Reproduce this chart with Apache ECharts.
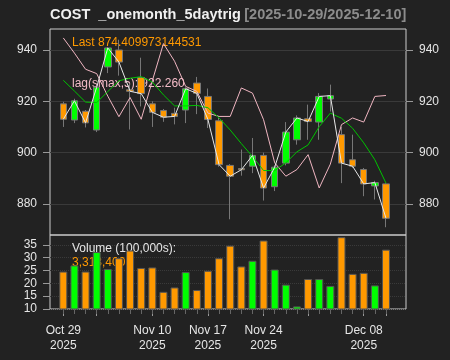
<!DOCTYPE html>
<html><head><meta charset="utf-8">
<script src="https://cdn.jsdelivr.net/npm/echarts@6/dist/echarts.min.js"></script>
<style>html,body{margin:0;padding:0;background:#222222;}#c{width:450px;height:360px;}</style>
</head><body><div id="c"></div>
<script>
const dates = ['2025-10-29','2025-10-30','2025-10-31','2025-11-03','2025-11-04','2025-11-05','2025-11-06','2025-11-07','2025-11-10','2025-11-11','2025-11-12','2025-11-13','2025-11-14','2025-11-17','2025-11-18','2025-11-19','2025-11-20','2025-11-21','2025-11-24','2025-11-25','2025-11-26','2025-11-28','2025-12-01','2025-12-02','2025-12-03','2025-12-04','2025-12-05','2025-12-08','2025-12-09','2025-12-10'];
const opens  = [919.0,912.7,916.1,908.8,933.4,940.0,924.5,929.3,919.0,916.4,915.3,916.6,927.1,921.9,912.4,895.0,893.8,894.7,898.9,886.7,895.9,905.0,913.2,911.9,920.9,907.0,897.2,893.4,887.0,887.8];
const closes = [913.0,920.2,911.6,925.5,940.8,935.3,923.9,923.0,915.7,913.8,914.1,924.9,923.1,912.9,895.3,890.8,893.3,898.9,886.2,894.3,908.0,913.5,912.1,921.9,922.2,895.9,894.7,887.8,888.3,874.409973144531];
const highs  = [919.8,921.0,916.6,926.0,941.2,944.0,927.0,937.0,920.0,917.0,917.5,925.5,929.5,925.0,913.5,895.5,901.2,905.7,900.0,895.0,911.9,914.5,918.7,923.2,926.5,910.0,907.0,894.0,889.0,888.0];
const lows   = [910.0,911.5,909.8,908.0,931.0,930.0,909.0,918.0,910.0,912.0,911.0,911.5,915.0,909.6,894.5,874.0,891.0,892.0,881.3,885.0,895.0,903.1,905.0,905.0,916.0,888.1,894.0,883.0,881.7,870.9];
const volumes = [24.6,27.0,24.6,32.2,25.6,29.8,32.8,26.0,26.2,16.7,18.4,24.4,17.4,24.9,29.8,34.7,26.6,28.8,36.7,25.4,19.5,11.0,21.7,21.7,19.0,38.0,23.7,24.1,19.2,33.134];
const sma5 = [928.2,924.0,919.7,919.5,923.8,928.0,929.0,929.6,927.5,922.5,918.2,918.2,918.4,917.5,913.5,908.8,903.5,898.5,893.0,893.0,896.0,900.3,903.0,910.1,915.4,913.4,909.5,903.8,897.2,888.1];
const lagSmax = [944.7,938.8,932.5,930.8,922.0,914.0,921.5,913.0,928.0,942.5,935.6,925.8,923.9,915.4,914.1,914.1,925.2,923.2,912.8,896.0,890.8,893.4,899.2,886.2,895.5,910.9,913.5,911.9,921.9,922.26];
const priceTicks = [880,900,920,940];
const volTicks = [10,15,20,25,30,35];
const labelDates = ['2025-10-29','2025-11-10','2025-11-17','2025-11-24','2025-12-08'];
const labelTexts = ['Oct 29\n2025','Nov 10\n2025','Nov 17\n2025','Nov 24\n2025','Dec 08\n2025'];
const majorTickDates = ['2025-10-29','2025-11-03','2025-11-10','2025-11-17','2025-11-24','2025-12-01','2025-12-08','2025-12-10'];

const FONT = 'Liberation Sans, Arial, sans-serif';
const UP = '#00ff00', DN = '#ff9900';
const pMin = 867.87, pMax = 948.19, vMin = 10, vMax = 38.85;
const frameL = 50, frameW = 356, plotL = 57.74, plotW = 333.8;
const topT = 29, topH = 206, botT = 235, botH = 74;

const chart = echarts.init(document.getElementById('c'), null, {renderer:'canvas'});
const hidden = {show:false};
function frameY(gi, pos, mn, mx, ticks, showSplit, splitType) {
  return {type:'value', gridIndex:gi, position:pos, min:mn, max:mx,
    axisLine:{show:false},
    axisTick:{show:true, length:7, lineStyle:{color:'#999'}, customValues:ticks},
    axisLabel:{show:true, color:'#e6e6e6', fontSize:12, fontFamily:FONT, margin:13, customValues:ticks},
    splitLine:{show:showSplit, lineStyle:{color:'#3a3a3a', width:1, type:splitType}}};
}
const option = {
  backgroundColor:'#222222',
  animation:false,
  grid:[
    {left:frameL, top:topT, width:frameW, height:topH, show:true, borderColor:'#cccccc', borderWidth:1, backgroundColor:'transparent'},
    {left:frameL, top:botT, width:frameW, height:botH, show:true, borderColor:'#cccccc', borderWidth:1, backgroundColor:'transparent'},
    {left:plotL, top:topT, width:plotW, height:topH},
    {left:plotL, top:botT, width:plotW, height:botH},
    {left:plotL, top:botT, width:plotW, height:botH}
  ],
  xAxis:[
    {type:'value', gridIndex:0, min:0, max:1, show:false},
    {type:'value', gridIndex:1, min:0, max:1, show:false},
    {type:'category', gridIndex:2, data:dates, boundaryGap:true, show:false},
    {type:'category', gridIndex:3, data:dates, boundaryGap:true, position:'bottom',
      axisLine:{show:false},
      axisTick:{show:true, alignWithLabel:true, length:7, lineStyle:{color:'#999'},
        interval:(i,v)=>majorTickDates.includes(v)},
      axisLabel:{show:true, color:'#e6e6e6', fontSize:12, fontFamily:FONT, lineHeight:15, margin:14.5,
        interval:(i,v)=>labelDates.includes(v),
        formatter:(v)=>{const k=labelDates.indexOf(v);return k>=0?labelTexts[k]:'';}},
      splitLine:{show:false}},
    {type:'category', gridIndex:4, data:dates, boundaryGap:true, position:'bottom',
      axisLine:{show:false},
      axisTick:{show:true, alignWithLabel:true, length:5, interval:0, lineStyle:{color:'#666'}},
      axisLabel:{show:false}, splitLine:{show:false}}
  ],
  yAxis:[
    frameY(0,'left',pMin,pMax,priceTicks,true,'solid'),
    frameY(0,'right',pMin,pMax,priceTicks,false,'solid'),
    frameY(1,'left',vMin,vMax,volTicks,true,'dotted'),
    {type:'value', gridIndex:2, min:pMin, max:pMax, show:false},
    {type:'value', gridIndex:3, min:vMin, max:vMax, show:false},
    {type:'value', gridIndex:4, min:0, max:1, show:false}
  ],
  series:[
    {type:'candlestick', xAxisIndex:2, yAxisIndex:3, barWidth:7,
      data:opens.map((o,i)=>[o,closes[i],lows[i],highs[i]]),
      itemStyle:{color:UP, color0:DN, borderColor:'#777', borderColor0:'#777', borderWidth:1}, z:2},
    {type:'line', xAxisIndex:2, yAxisIndex:3, data:lagSmax, symbol:'none', lineStyle:{color:'#f0b6c2', width:1}, z:3},
    {type:'line', xAxisIndex:2, yAxisIndex:3, data:sma5, symbol:'none', lineStyle:{color:'#00c400', width:1}, z:3},
    {type:'line', xAxisIndex:2, yAxisIndex:3, data:closes, symbol:'none', lineStyle:{color:'#e8e8e8', width:1}, z:4},
    {type:'bar', xAxisIndex:3, yAxisIndex:4, barWidth:8,
      data:volumes.map((v,i)=>({value:v, itemStyle:{color: closes[i]>=opens[i]?UP:DN}})),
      itemStyle:{borderColor:'#555', borderWidth:1}}
  ],
  graphic:[
    {type:'text', x:50, y:15, style:{text:'{a|COST  _onemonth_5daytrig} {b|[2025-10-29/2025-12-10]}', verticalAlign:'middle',
      rich:{a:{fontSize:14.5, fontWeight:'bold', fill:'#f0f0f0', fontFamily:FONT}, b:{fontSize:14.5, fontWeight:'bold', fill:'#8c8c8c', fontFamily:FONT}}}},
    {type:'text', x:72, y:43, z:1, style:{text:'Last ' + String(closes[closes.length-1]), fill:DN, fontSize:12, fontFamily:FONT, verticalAlign:'middle'}},
    {type:'text', x:72, y:84, z:1, style:{text:'lag(smax,5): ' + lagSmax[lagSmax.length-1].toFixed(3), fill:'#f4bcc8', fontSize:12, fontFamily:FONT, verticalAlign:'middle'}},
    {type:'text', x:72, y:249, z:1, style:{text:'Volume (100,000s):', fill:'#e6e6e6', fontSize:12, fontFamily:FONT, verticalAlign:'middle'}},
    {type:'text', x:72, y:262.5, z:1, style:{text:Math.round(volumes[volumes.length-1]*100000).toLocaleString('en-US'), fill:DN, fontSize:12, fontFamily:FONT, verticalAlign:'middle'}}
  ]
};
chart.setOption(option);
</script></body></html>
